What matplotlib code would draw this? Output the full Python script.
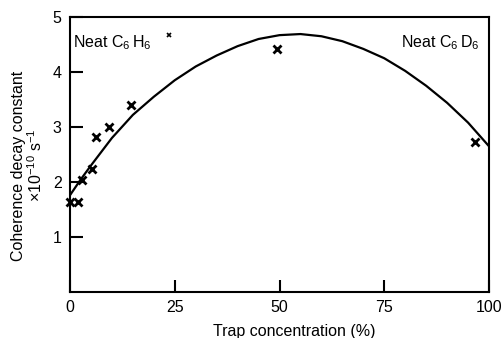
import matplotlib
matplotlib.use("Agg")
import matplotlib.pyplot as plt

plt.rcParams['font.family'] = ['Liberation Sans', 'DejaVu Sans']
plt.rcParams['mathtext.fontset'] = 'custom'
plt.rcParams['mathtext.rm'] = 'Liberation Sans'

# measured points (trap concentration %, coherence decay constant x1e-10 s^-1)
conc = [0, 1.9, 2.9, 5.2, 6.2, 9.3, 14.6, 49.4, 96.7]
decay = [1.64, 1.64, 2.04, 2.24, 2.82, 3.0, 3.4, 4.42, 2.73]
# small stray point
stray_conc = [23.6]
stray_decay = [4.67]

# fitted curve
curve_conc = [0, 2.5, 5, 10, 15, 20, 25, 30, 35, 40, 45, 50, 55, 60, 65, 70, 75, 80, 85, 90, 95, 100]
curve_decay = [1.76, 2.04, 2.3, 2.8, 3.22, 3.55, 3.85, 4.1, 4.3, 4.47, 4.6, 4.67, 4.69, 4.65, 4.56,
               4.42, 4.25, 4.02, 3.75, 3.44, 3.08, 2.65]

xticks = [0, 25, 50, 75, 100]
yticks = [1, 2, 3, 4, 5]

fig = plt.figure(figsize=(5.04, 3.38), dpi=100)
ax = fig.add_axes([70/504, 1-292/338, 419/504, 275/338])

ax.plot(curve_conc, curve_decay, color='black', lw=1.6, solid_capstyle='round')
ax.plot(conc, decay, linestyle='none', marker='x', color='black', ms=6, mew=2, clip_on=False, zorder=5)
ax.plot(stray_conc, stray_decay, linestyle='none', marker='x', color='black', ms=3, mew=1.2)

ax.set_xlim(0, 100)
ax.set_ylim(0, 5)
ax.set_xticks(xticks)
ax.set_yticks(yticks)
ax.set_xticklabels([str(t) for t in xticks])
ax.set_yticklabels([str(t) for t in yticks])
ax.tick_params(axis='both', direction='in', length=9, width=1.5, labelsize=11.5, pad=6)
for s in ax.spines.values():
    s.set_linewidth(1.5)

ax.text(0.8, 4.53, r'Neat C$_6\,$H$_6$', fontsize=11.5, va='center', ha='left')
ax.text(97.9, 4.53, r'Neat C$_6\,$D$_6$', fontsize=11.5, va='center', ha='right')

ax.set_ylabel('Coherence decay constant\n' + r'$\times$10$^{-10}$ s$^{-1}$', fontsize=11.5,
              linespacing=1.0)
ax.yaxis.set_label_coords(-0.06, 0.46)
ax.set_xlabel('Trap concentration (%)', fontsize=11.5)
ax.xaxis.set_label_coords(0.535, -0.115)

fig.savefig('out.png', dpi=100)
